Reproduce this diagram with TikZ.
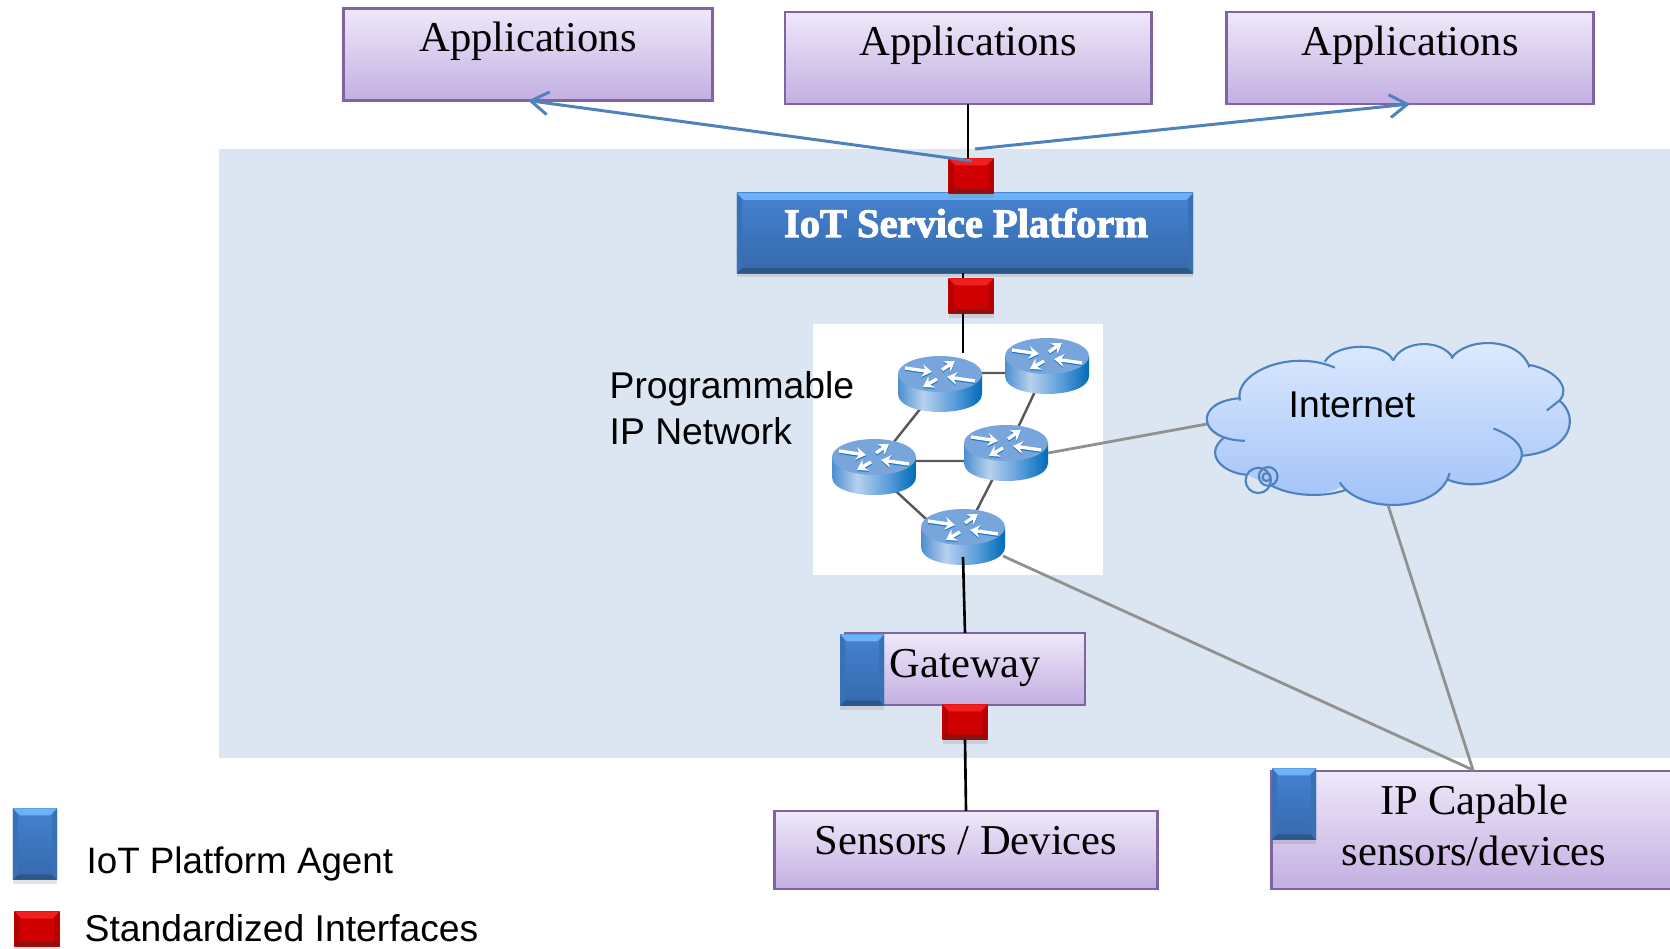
\documentclass[tikz,border=0pt]{standalone}
\usepackage{fontspec}
\setmainfont{Liberation Serif}
\setsansfont{Liberation Sans}
\newfontfamily\platformfont[UprightFont=* Bold,FakeBold=2.6]{Liberation Serif}
\usetikzlibrary{arrows.meta,shadows}
\definecolor{panelblue}{HTML}{DCE6F2}
\definecolor{boxedge}{HTML}{8064A2}
\definecolor{linkblue}{HTML}{4F81BD}
\definecolor{linkgrey}{HTML}{919191}
\definecolor{purpletop}{HTML}{EFE8F9}
\definecolor{purplebottom}{HTML}{C3AFE2}
\definecolor{blueface}{HTML}{4582D2}
\definecolor{bluefacelow}{HTML}{3569AB}
\definecolor{bluetopband}{HTML}{6CB2F6}
\definecolor{bluelowband}{HTML}{2C5688}
\definecolor{bluesideband}{HTML}{3A70B4}
\definecolor{redface}{HTML}{D00000}
\definecolor{redtopband}{HTML}{F02020}
\definecolor{redlowband}{HTML}{8E1010}
\definecolor{redsideband}{HTML}{B00000}
\definecolor{routertop}{HTML}{78A6DC}
\definecolor{routeredge}{HTML}{1B75BC}
\definecolor{cloudtop}{HTML}{DFEBFF}
\definecolor{cloudbottom}{HTML}{9EC0F8}
\pgfdeclarehorizontalshading{routerbody}{100bp}{
  rgb(0bp)=(0.30,0.56,0.82);
  rgb(25bp)=(0.30,0.56,0.82);
  rgb(40bp)=(0.72,0.82,0.93);
  rgb(58bp)=(0.36,0.62,0.86);
  rgb(75bp)=(0.00,0.42,0.72);
  rgb(100bp)=(0.00,0.42,0.72)}
\tikzset{
  purplebox/.style={draw=boxedge,line width=0.8pt,top color=purpletop,bottom color=purplebottom,outer sep=0pt,inner sep=0pt},
  boxtext/.style={inner sep=0pt,anchor=base,font=\fontsize{12.1}{14.5}\selectfont},
  sanstext/.style={inner sep=0pt,anchor=base west,font=\sffamily\fontsize{10.6}{12.8}\selectfont},
  bevel/.style n args={5}{top color=#1,bottom color=#2,outer sep=0pt,inner sep=0pt,
    drop shadow={shadow xshift=0pt,shadow yshift=-1.2pt,opacity=.22},
    path picture={
      \fill[#3] (path picture bounding box.north west) -- (path picture bounding box.north east)
        -- ([xshift=-0.07cm,yshift=-0.07cm]path picture bounding box.north east)
        -- ([xshift=0.07cm,yshift=-0.07cm]path picture bounding box.north west) -- cycle;
      \fill[#4] (path picture bounding box.south west) -- (path picture bounding box.south east)
        -- ([xshift=-0.05cm,yshift=0.05cm]path picture bounding box.south east)
        -- ([xshift=0.05cm,yshift=0.05cm]path picture bounding box.south west) -- cycle;
      \fill[#5] (path picture bounding box.north west) -- ([xshift=0.05cm,yshift=-0.07cm]path picture bounding box.north west)
        -- ([xshift=0.05cm,yshift=0.05cm]path picture bounding box.south west) -- (path picture bounding box.south west) -- cycle;
      \fill[#5] (path picture bounding box.north east) -- ([xshift=-0.05cm,yshift=-0.07cm]path picture bounding box.north east)
        -- ([xshift=-0.05cm,yshift=0.05cm]path picture bounding box.south east) -- (path picture bounding box.south east) -- cycle;
    }},
  bluebevel/.style={bevel={blueface}{bluefacelow}{bluetopband}{bluelowband}{bluesideband}},
  redbevel/.style={bevel={redface}{redface}{redtopband}{redlowband}{redsideband},minimum width=0.45cm,minimum height=0.35cm},
  agent/.style={bluebevel,minimum width=0.44cm,minimum height=0.71cm},
  routerspot/.style={minimum width=0.84cm,minimum height=0.56cm,inner sep=0pt,outer sep=0pt},
  blacklink/.style={draw=black,line width=0.75pt},
  greylink/.style={draw=linkgrey,line width=0.8pt},
  netlink/.style={draw=black!65,line width=0.7pt},
  bluelink/.style={draw=linkblue,line width=0.85pt},
  cloudline/.style={draw=linkblue,line width=0.6pt},
  routerglyph/.pic={
    \shade[shading=routerbody] (-42,0) -- (-42,20) .. controls (-42,44) and (42,44) .. (42,20) -- (42,0) -- cycle;
    \fill[routertop] (0,0) ellipse [x radius=42,y radius=18];
    \begin{scope}[routerarrow/.style={line width=0.95pt,-{Stealth[length=2.8pt,width=3.6pt]}}]
      \draw[routerarrow,routeredge] (-35,-4.8) -- (-8,-0.8);
      \draw[routerarrow,routeredge] (2,-2.8) -- (15,-11.8);
      \draw[routerarrow,routeredge] (-3,6.2) -- (-17,14.2);
      \draw[routerarrow,routeredge] (35,8.2) -- (7,4.2);
      \draw[routerarrow,white] (-35,-6) -- (-8,-2);
      \draw[routerarrow,white] (2,-4) -- (15,-13);
      \draw[routerarrow,white] (-3,5) -- (-17,13);
      \draw[routerarrow,white] (35,7) -- (7,3);
    \end{scope}
  }
}
\begin{document}
\begin{tikzpicture}[x=0.01cm,y=-0.01cm]
      \clip (0,0) rectangle (1670,949);
      \fill[panelblue] (219,149) rectangle (1680,758);
      \fill[white] (813,324) rectangle (1103,575);
      \draw
        (528,54.5) node[purplebox,minimum width=3.68cm,minimum height=0.92cm] (app1){}
        (968,58) node[purplebox,minimum width=3.66cm,minimum height=0.92cm] (app2){}
        (1410,58) node[purplebox,minimum width=3.67cm,minimum height=0.92cm] (app3){}
        (965,669) node[purplebox,minimum width=2.40cm,minimum height=0.72cm] (gateway){}
        (966,850) node[purplebox,minimum width=3.82cm,minimum height=0.78cm] (sensors){}
        (1481,830) node[purplebox,minimum width=4.18cm,minimum height=1.18cm] (ipdevices){}
        (965,233) node[bluebevel,minimum width=4.56cm,minimum height=0.80cm] (platform){}
        (971,176) node[redbevel] (red1){}
        (971,296) node[redbevel] (red2){}
        (965,722) node[redbevel] (red3){}
        (862,670) node[agent] (agent1){}
        (1294,804) node[agent] (agent2){}
        (35,844) node[agent] (agent3){}
        (37,929) node[redbevel] (red4){}
        (940,384) node[routerspot] (r1){}
        (1047,366) node[routerspot] (r2){}
        (874,467) node[routerspot] (r3){}
        (1006,453) node[routerspot] (r4){}
        (963,537) node[routerspot] (r5){};
      \coordinate (r1top) at (963,353);
      \coordinate (r5port) at (1003,556);
      \coordinate (r5drop) at (963,557);
      \coordinate (cloudleft) at (1207,424);
      \coordinate (cloudlow) at (1388,505);
      \coordinate (bluestart) at (975,149);
      \coordinate (bluehit) at (972,161);
      \coordinate (ipjoin) at (1473,770);
      \begin{scope}
        \draw[netlink] ([yshift=0.11cm]r1.center) to ([yshift=-0.07cm]r2.center);
        \draw[netlink] (r1.center) to (r3.center);
        \draw[netlink] (r2.center) to (r4.center);
        \draw[netlink] ([yshift=0.06cm]r3.center) to ([yshift=-0.08cm]r4.center);
        \draw[netlink] ([yshift=-0.04cm]r3.center) to ([yshift=-0.16cm]r5.center);
        \draw[netlink] (r4.center) to (r5.center);
      \end{scope}
      \path (r1.center) ++(0,-10) pic {routerglyph};
      \path (r2.center) ++(0,-10) pic {routerglyph};
      \path (r3.center) ++(0,-10) pic {routerglyph};
      \path (r4.center) ++(0,-10) pic {routerglyph};
      \path (r5.center) ++(0,-10) pic {routerglyph};
      \begin{scope}[shift={(1190,330)},x=0.00333cm,y=-0.00333cm]
        \shade[top color=cloudtop,bottom color=cloudbottom]
          (150,212) .. controls (130,130) and (300,55) .. (405,95)
          .. controls (440,36) and (590,36) .. (610,92)
          .. controls (640,27) and (760,27) .. (790,85)
          .. controls (830,20) and (990,20) .. (1020,105)
          .. controls (1100,120) and (1145,175) .. (1110,212)
          .. controls (1170,260) and (1150,365) .. (997,378)
          .. controls (985,450) and (860,485) .. (775,450)
          .. controls (740,540) and (520,550) .. (455,470)
          .. controls (400,505) and (300,500) .. (240,465)
          -- (170,435)
          .. controls (100,430) and (40,375) .. (100,325)
          .. controls (20,300) and (30,215) .. (150,205) -- cycle;
        \draw[cloudline] (150,212) .. controls (130,130) and (300,55) .. (435,113);
        \draw[cloudline] (405,95) .. controls (440,36) and (590,36) .. (610,92);
        \draw[cloudline] (610,92) .. controls (640,27) and (760,27) .. (790,85);
        \draw[cloudline] (785,85) .. controls (830,20) and (990,20) .. (1020,112);
        \draw[cloudline] (1020,105) .. controls (1100,120) and (1145,175) .. (1110,212) -- (1072,242);
        \draw[cloudline] (1110,212) .. controls (1170,260) and (1150,365) .. (997,378);
        \draw[cloudline] (912,296) .. controls (975,320) and (1000,350) .. (997,378) .. controls (985,450) and (860,485) .. (775,450);
        \draw[cloudline] (780,430) .. controls (750,550) and (510,555) .. (450,458);
        \draw[cloudline] (470,480) .. controls (400,505) and (300,500) .. (240,465);
        \draw[cloudline] (170,435) .. controls (100,430) and (40,375) .. (100,325);
        \draw[cloudline] (165,333) .. controls (20,330) and (10,215) .. (150,205);
        \draw[cloudline] (205,452) circle [radius=38];
        \draw[cloudline] (235,440) circle [radius=28];
        \draw[cloudline] (230,442) circle [radius=12];
      \end{scope}
      \begin{scope}
        \draw[blacklink] (app2.south) to (red1.north -| app2.south);
        \draw[blacklink] (platform.south -| r1top) to (red2.north -| r1top);
        \draw[blacklink] (red2.south -| r1top) to (r1top);
        \draw[blacklink] (r5drop) to (gateway.north);
        \draw[blacklink] (red3.south) to (sensors.north);
        \draw[greylink] (r4.east) to (cloudleft);
        \draw[greylink] (r5port) to (ipjoin);
        \draw[greylink] (cloudlow) to (ipjoin);
        \draw[bluelink,-{Straight Barb[length=5pt,width=6.5pt]}] (bluehit) to (app1.south);
        \draw[bluelink,-{Straight Barb[length=5pt,width=6.5pt]}] (bluestart) to (app3.south);
      \end{scope}
      \draw
        (528,52) node[boxtext] (apptext1){Applications}
        (968,56) node[boxtext] (apptext2){Applications}
        (1410,56) node[boxtext] (apptext3){Applications}
        (965.5,677) node[boxtext] (gatewaytext){Gateway}
        (966,854) node[boxtext] (sensorstext){Sensors / Devices}
        (1474,814) node[boxtext] (iptext1){IP Capable}
        (1474,865) node[boxtext] (iptext2){sensors/devices}
        (966,237) node[inner sep=0pt,anchor=base,text=white,font=\platformfont\fontsize{11.5}{14}\selectfont] (platformtext){IoT Service Platform}
        (609,399) node[sanstext] (progtext1){Programmable}
        (609,444) node[sanstext] (progtext2){IP Network}
        (1288,417) node[sanstext] (internet){Internet}
        (86,873) node[sanstext,font=\sffamily\fontsize{10.45}{12.8}\selectfont] (legend1){IoT Platform Agent}
        (84,941) node[sanstext] (legend2){Standardized Interfaces};
    \end{tikzpicture}
\end{document}
